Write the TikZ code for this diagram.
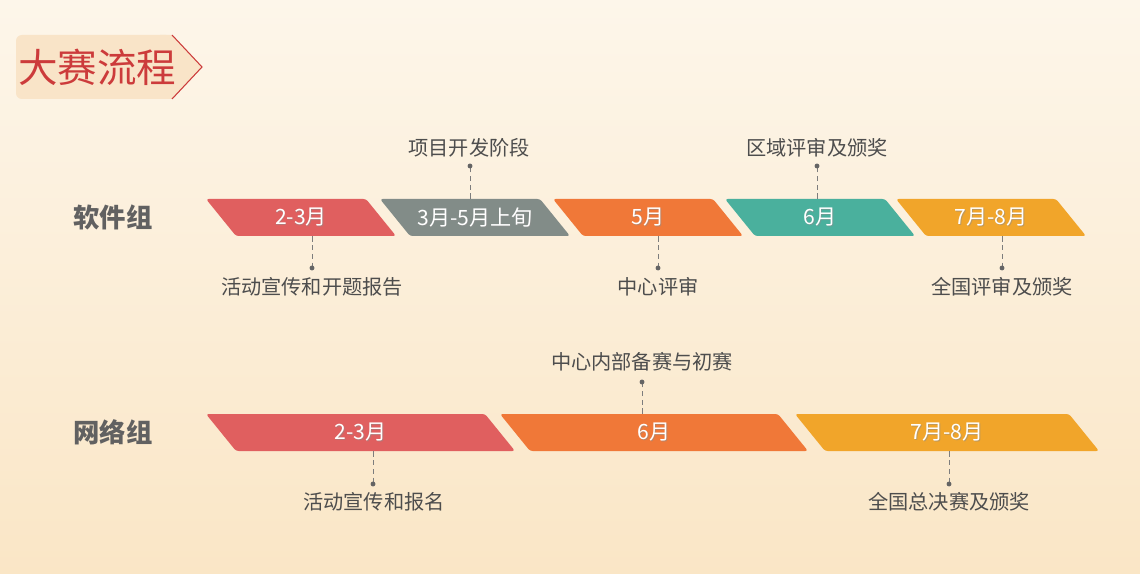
\documentclass[tikz,border=0pt]{standalone}
\usepackage{xcolor}
\usepackage{tikz}
\usepackage{fontspec}
\setmainfont{Noto Sans CJK SC}
\usetikzlibrary{positioning, calc}
\definecolor{bgtop}{RGB}{253, 246, 234}
\definecolor{bgbottom}{RGB}{250, 230, 198}
\definecolor{badgefill}{RGB}{249, 228, 200}
\definecolor{titlered}{RGB}{204, 59, 59}
\definecolor{phasered}{RGB}{224, 95, 95}
\definecolor{phasegray}{RGB}{130, 140, 136}
\definecolor{phaseorange}{RGB}{240, 120, 56}
\definecolor{phaseteal}{RGB}{74, 176, 157}
\definecolor{phaseamber}{RGB}{241, 165, 42}
\definecolor{labeltext}{RGB}{77, 77, 77}
\definecolor{leadergray}{RGB}{125, 125, 125}

\tikzset{
    phasetext/.style={text=white, font=\fontsize{12}{14}\selectfont, minimum height=0.74cm, inner sep=0pt},
    phaseshadow/.style={text=black!45, font=\fontsize{12}{14}\selectfont, inner sep=0pt, opacity=0.5},
    steplabel/.style={text=labeltext, font=\fontsize{11.5}{14}\selectfont, inner sep=1pt},
    grouplabel/.style={text=black!62, font=\fontsize{15}{18}\selectfont\bfseries},
    titletext/.style={text=titlered, font=\fontsize{22.5}{26}\selectfont, inner sep=0pt},
    leader/.style={leadergray, densely dashed, line width=0.5pt},
    leaderdot/.style={fill=leadergray!80!black}
}

% slanted phase bar: x and y of top-left corner, top width, colour, name, text
\newcommand{\phasebar}[6]{
    \fill[#4, rounded corners=1.5pt] (#1,#2) -- ++(#3,0) -- ++(30,37) -- ++(-#3,0) -- cycle;
    \node[phaseshadow] at (#1+#3/2+15.8, #2+19.3) {#6};
    \node[phasetext] (#5) at (#1+#3/2+15, #2+18.5) {#6};
}

\begin{document}
\begin{tikzpicture}[x=0.02cm, y=-0.02cm]
    \useasboundingbox (0,0) rectangle (1140,574);
    \shade[top color=bgtop, bottom color=bgbottom] (0,0) rectangle (1140,574);

    % title badge
    \fill[badgefill, rounded corners=3.4pt] (16,35) rectangle (172,99);
    \fill[badgefill] (160,35) -- (172,35) -- (202,67) -- (172,99) -- (160,99) -- cycle;
    \draw[titlered, line width=0.6pt] (172,35) -- (202,67) -- (172,99);
    \node[titletext, anchor=west] (title) at (18,67) {大赛流程};

    % software group
    \node[grouplabel] (soft) at (113,217.5) {软件组};
    \phasebar{206}{199}{160}{phasered}{s1}{2-3月}
    \phasebar{380}{199}{160}{phasegray}{s2}{3月-5月上旬}
    \phasebar{553}{199}{160}{phaseorange}{s3}{5月}
    \phasebar{725}{199}{160}{phaseteal}{s4}{6月}
    \phasebar{896}{199}{160}{phaseamber}{s5}{7月-8月}

    \node[steplabel] (sl1) at (312,287) {活动宣传和开题报告};
    \coordinate (sd1) at (312,268);
    \draw[leader] (s1.south -| sd1) -- (sd1);
    \fill[leaderdot] (sd1) circle (1.4pt);

    \node[steplabel] (sl2) at (469,148) {项目开发阶段};
    \coordinate (sd2) at (470,166);
    \draw[leader] (s2.north -| sd2) -- (sd2);
    \fill[leaderdot] (sd2) circle (1.4pt);

    \node[steplabel] (sl3) at (658,287) {中心评审};
    \coordinate (sd3) at (658,268);
    \draw[leader] (s3.south -| sd3) -- (sd3);
    \fill[leaderdot] (sd3) circle (1.4pt);

    \node[steplabel] (sl4) at (817,148) {区域评审及颁奖};
    \coordinate (sd4) at (817,166);
    \draw[leader] (s4.north -| sd4) -- (sd4);
    \fill[leaderdot] (sd4) circle (1.4pt);

    \node[steplabel] (sl5) at (1002,287) {全国评审及颁奖};
    \coordinate (sd5) at (1002,268);
    \draw[leader] (s5.south -| sd5) -- (sd5);
    \fill[leaderdot] (sd5) circle (1.4pt);

    % network group
    \node[grouplabel] (net) at (113,432.5) {网络组};
    \phasebar{206}{414}{279}{phasered}{n1}{2-3月}
    \phasebar{500}{414}{278}{phaseorange}{n2}{6月}
    \phasebar{795}{414}{274}{phaseamber}{n3}{7月-8月}

    \node[steplabel] (nl1) at (374,502) {活动宣传和报名};
    \coordinate (nd1) at (373,484);
    \draw[leader] (n1.south -| nd1) -- (nd1);
    \fill[leaderdot] (nd1) circle (1.4pt);

    \node[steplabel] (nl2) at (642,362) {中心内部备赛与初赛};
    \coordinate (nd2) at (642,382);
    \draw[leader] (n2.north -| nd2) -- (nd2);
    \fill[leaderdot] (nd2) circle (1.4pt);

    \node[steplabel] (nl3) at (949,502) {全国总决赛及颁奖};
    \coordinate (nd3) at (949,484);
    \draw[leader] (n3.south -| nd3) -- (nd3);
    \fill[leaderdot] (nd3) circle (1.4pt);
\end{tikzpicture}
\end{document}
